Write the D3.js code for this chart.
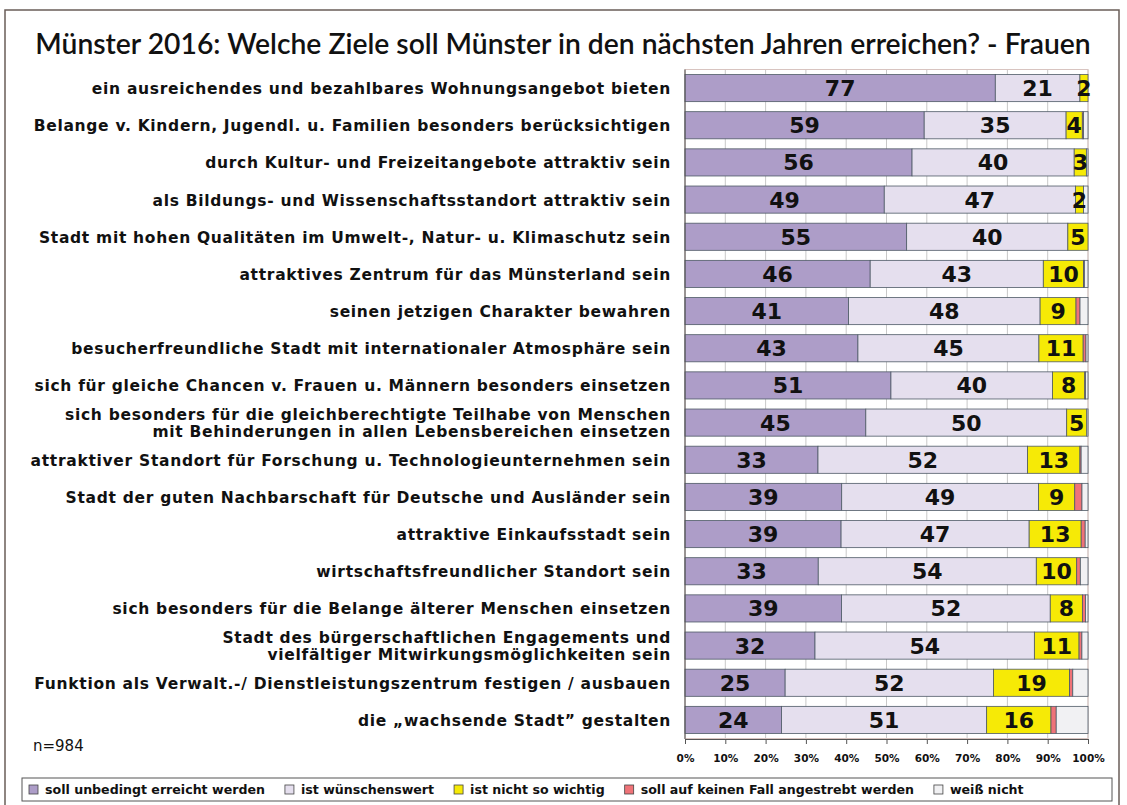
<!DOCTYPE html>
<html lang="de">
<head>
<meta charset="UTF-8">
<title>Münster 2016: Welche Ziele soll Münster erreichen? - Frauen</title>
<script src="https://d3js.org/d3.v7.min.js"></script>
<style>
  body { margin: 0; background: #fff; }
  svg text { fill: #111; }
</style>
</head>
<body>
<svg id="chart"></svg>
<script>
// ---- data ----
const categories = [
  ["ein ausreichendes und bezahlbares Wohnungsangebot bieten"],
  ["Belange v. Kindern, Jugendl. u. Familien besonders berücksichtigen"],
  ["durch Kultur- und Freizeitangebote attraktiv sein"],
  ["als Bildungs- und Wissenschaftsstandort attraktiv sein"],
  ["Stadt mit hohen Qualitäten im Umwelt-, Natur- u. Klimaschutz sein"],
  ["attraktives Zentrum für das Münsterland sein"],
  ["seinen jetzigen Charakter bewahren"],
  ["besucherfreundliche Stadt mit internationaler Atmosphäre sein"],
  ["sich für gleiche Chancen v. Frauen u. Männern besonders einsetzen"],
  ["sich besonders für die gleichberechtigte Teilhabe von Menschen", "mit Behinderungen in allen Lebensbereichen einsetzen"],
  ["attraktiver Standort für Forschung u. Technologieunternehmen sein"],
  ["Stadt der guten Nachbarschaft für Deutsche und Ausländer sein"],
  ["attraktive Einkaufsstadt sein"],
  ["wirtschaftsfreundlicher Standort sein"],
  ["sich besonders für die Belange älterer Menschen einsetzen"],
  ["Stadt des bürgerschaftlichen Engagements und", "vielfältiger Mitwirkungsmöglichkeiten sein"],
  ["Funktion als Verwalt.-/ Dienstleistungszentrum festigen / ausbauen"],
  ["die „wachsende Stadt\u201d gestalten"]
];
const unbedingt   = [77, 59, 56, 49, 55, 46, 41, 43, 51, 45, 33, 39, 39, 33, 39, 32, 25, 24];
const wuenschens  = [21, 35, 40, 47, 40, 43, 48, 45, 40, 50, 52, 49, 47, 54, 52, 54, 52, 51];
const nichtWichtig= [ 2,  4,  3,  2,  5, 10,  9, 11,  8,  5, 13,  9, 13, 10,  8, 11, 19, 16];
const keinenFall  = [0, 0.3, 0, 0, 0, 0.2, 1, 0.7, 0.2, 0, 0.3, 1.8, 1, 0.9, 0.8, 0.7, 0.8, 1.3];
const weissNicht  = [0, 1.1, 0.4, 1.1, 0, 0.9, 2, 0.5, 0.6, 0.3, 1.7, 1.5, 0.7, 1.9, 0.6, 1.5, 3.8, 7.9];
const seriesNames = ["soll unbedingt erreicht werden", "ist wünschenswert", "ist nicht so wichtig",
                     "soll auf keinen Fall angestrebt werden", "weiß nicht"];
const seriesColors = ["#ad9dc8", "#e5dfee", "#f6ea06", "#ef7378", "#f1f1f3"];
const ticks = [0, 10, 20, 30, 40, 50, 60, 70, 80, 90, 100];
const title = "Münster 2016: Welche Ziele soll Münster in den nächsten Jahren erreichen? - Frauen";
const sampleNote = "n=984";

const W = 1127, H = 805;
const keys = ["a", "b", "c", "d", "e"];
const rows = categories.map((c, i) => ({
  cat: c.join(" "), lines: c,
  a: unbedingt[i], b: wuenschens[i], c: nichtWichtig[i], d: keinenFall[i], e: weissNicht[i]
}));

const svg = d3.select("#chart").attr("width", W).attr("height", H);

// outer frame
svg.append("rect").attr("x", 5).attr("y", 10).attr("width", 1114).attr("height", 820)
  .attr("fill", "#fff").attr("stroke", "#6a5d58").attr("stroke-width", 1.5);

// title
const t = svg.append("text").attr("x", 563).attr("y", 54).attr("text-anchor", "middle")
  .style("font-family", "Lato, 'Open Sans', sans-serif").style("font-size", "27px")
  .style("font-weight", 600).text(title);
const tw = t.node().getComputedTextLength();
t.style("font-size", (27 * 1056 / tw) + "px");

const x = d3.scaleLinear().domain([0, 1]).range([685, 1088]);
const y = d3.scaleBand().domain(rows.map(d => d.cat)).range([69.5, 738.5])
  .paddingInner(0.27).paddingOuter(0.135);

// grid
svg.append("g").selectAll("line").data(ticks).join("line")
  .attr("x1", d => x(d / 100)).attr("x2", d => x(d / 100))
  .attr("y1", 69.5).attr("y2", 738.5)
  .attr("stroke", "#c8c8c8").attr("stroke-width", 1);
svg.append("rect").attr("x", 685).attr("y", 69.5).attr("width", 403).attr("height", 669)
  .attr("fill", "none").attr("stroke", "#d8c4c0");

const stacked = d3.stack().keys(keys).offset(d3.stackOffsetExpand)(rows);

const groups = svg.append("g").selectAll("g").data(stacked).join("g")
  .attr("fill", (d, i) => seriesColors[i]);
groups.selectAll("rect").data(d => d).join("rect")
  .attr("x", d => x(d[0])).attr("width", d => Math.max(0, x(d[1]) - x(d[0])))
  .attr("y", d => y(d.data.cat)).attr("height", y.bandwidth())
  .attr("stroke", "#4e5a66").attr("stroke-width", 0.8);

// value labels for the first three series
svg.append("g").selectAll("g").data(stacked.slice(0, 3)).join("g")
  .selectAll("text").data((d, i) => d.map(v => ({ v, key: keys[i] }))).join("text")
  .attr("x", d => (x(d.v[0]) + x(d.v[1])) / 2)
  .attr("y", d => y(d.v.data.cat) + y.bandwidth() / 2 + 8)
  .attr("text-anchor", "middle")
  .style("font-family", "'DejaVu Sans', Verdana, sans-serif")
  .style("font-weight", "bold").style("font-size", "22px")
  .text(d => d.v.data[d.key]);

// category labels
const lineGap = 17;
const lab = svg.append("g").selectAll("text").data(rows).join("text")
  .attr("text-anchor", "end")
  .attr("x", 671)
  .attr("y", d => y(d.cat) + y.bandwidth() / 2 + 6 - (d.lines.length - 1) * lineGap / 2)
  .style("font-family", "'DejaVu Sans', Verdana, sans-serif")
  .style("font-weight", "bold").style("font-size", "15.5px")
  .style("letter-spacing", "0.7px");
lab.selectAll("tspan").data(d => d.lines).join("tspan")
  .attr("x", 671).attr("dy", (d, i) => i ? lineGap : 0).text(d => d);

// axes
const xAxis = d3.axisBottom(x).tickValues(ticks.map(d => d / 100))
  .tickFormat(d => Math.round(d * 100) + "%").tickSize(5);
const ax = svg.append("g").attr("transform", "translate(0,739)").call(xAxis);
ax.select(".domain").attr("stroke", "#555");
ax.selectAll(".tick line").attr("stroke", "#555");
ax.selectAll("text").attr("dy", "1.4em")
  .style("font-family", "'DejaVu Sans', Verdana, sans-serif")
  .style("font-weight", "bold").style("font-size", "10.5px").attr("fill", "#222");

svg.append("line").attr("x1", 685).attr("x2", 685).attr("y1", 69.5).attr("y2", 739)
  .attr("stroke", "#555");

svg.append("text").attr("x", 33).attr("y", 751)
  .style("font-family", "'DejaVu Sans', Verdana, sans-serif").style("font-size", "15px")
  .text(sampleNote);

// legend
const lg = svg.append("g");
lg.append("rect").attr("x", 22).attr("y", 778).attr("width", 1090).attr("height", 23)
  .attr("fill", "#fff").attr("stroke", "#555");
let lx = 29;
seriesNames.forEach((name, i) => {
  lg.append("rect").attr("x", lx).attr("y", 785).attr("width", 9).attr("height", 9)
    .attr("fill", seriesColors[i]).attr("stroke", "#444").attr("stroke-width", 0.8);
  const tx = lg.append("text").attr("x", lx + 16).attr("y", 794)
    .style("font-family", "'DejaVu Sans', Verdana, sans-serif")
    .style("font-weight", "bold").style("font-size", "12.6px").text(name);
  lx += 16 + tx.node().getComputedTextLength() + 20;
});
</script>
</body>
</html>
